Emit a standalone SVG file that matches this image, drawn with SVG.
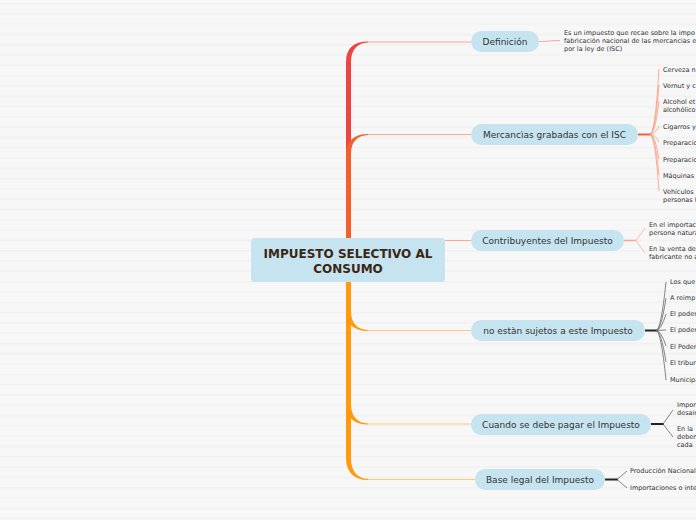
<svg xmlns="http://www.w3.org/2000/svg" width="696" height="520" viewBox="0 0 696 520">
<defs>
<pattern id="lines" width="696" height="10.3" patternUnits="userSpaceOnUse">
<rect width="696" height="10.3" fill="#f7f7f7"/>
<rect y="3" width="696" height="1" fill="#efefef"/>
</pattern>
<style>
.pill{fill:#c6e4f0}
.nt{font-family:"DejaVu Sans",Verdana,sans-serif;font-size:9px;fill:#333;text-anchor:middle}
.lt{font-family:"DejaVu Sans",Verdana,sans-serif;font-size:6.5px;fill:#333}
.ct{font-family:"DejaVu Sans",Verdana,sans-serif;font-size:12px;font-weight:bold;fill:#3b2616;text-anchor:middle}
.red{fill:#ee4540}
.ored{fill:#f2602e}
.orng{fill:#ff9a0a}
.hred{stroke:#f5a6a0;stroke-width:1;fill:none}
.hored{stroke:#f8aa8c;stroke-width:1;fill:none}
.horng{stroke:#ffc878;stroke-width:1;fill:none}
.fo{stroke:#f79c7c;stroke-width:0.8;fill:none}
.fs{stroke:#f8b09a;stroke-width:0.8;fill:none}
.fk{stroke:#666;stroke-width:0.8;fill:none}
.hk{stroke:#222;stroke-width:2;fill:none}
</style>
</defs>
<rect width="696" height="520" fill="url(#lines)"/>
<g id="connectors">
<!-- Definicion branch -->
<path class="red" d="M346,240 L346,62 C346,48 354,41.5 368,41.5 L368,42.5 C357,43 351,50 351,62 L351,240 Z"/>
<path class="hred" d="M368,42 L472,42"/>
<!-- Mercancias branch -->
<path class="ored" d="M346,240 L346,154 C346,141 354,134 368,134 L368,135 C357,135.5 351,142 351,154 L351,240 Z"/>
<path class="hored" d="M368,134.5 L472,134.5"/>
<!-- Contribuyentes -->
<path class="hored" d="M445,240.5 L472,240.5"/>
<!-- lower branches -->
<path class="orng" d="M346,280 L346,311 C346,324 354,331 368,331 L368,330 C357,329.5 351,323 351,311 L351,280 Z"/>
<path class="horng" d="M368,330.5 L472,330.5"/>
<path class="orng" d="M346,280 L346,404 C346,417 354,424.5 368,424.5 L368,423.5 C357,423 351,416 351,404 L351,280 Z"/>
<path class="horng" d="M368,424 L472,424"/>
<path class="orng" d="M346,280 L346,458 C346,472 354,480 368,480 L368,479 C357,478.5 351,471 351,458 L351,280 Z"/>
<path class="horng" d="M368,479.5 L476,479.5"/>
<!-- Definicion leaf -->
<path class="hred" d="M539,41.5 C550,41.5 550,40.5 560,40.5"/>
<!-- Mercancias fan -->
<path d="M638,134.5 L651,134.5" stroke="#f2602e" stroke-width="2" fill="none"/>
<path class="fo" d="M650,134.5 Q655,134.5 659,69"/>
<path class="fo" d="M650,134.5 Q655,134.5 659,85"/>
<path class="fo" d="M650,134.5 Q655,134.5 659,101"/>
<path class="fo" d="M650,134.5 Q655,134.5 659,126"/>
<path class="fo" d="M650,134.5 Q655,134.5 659,142"/>
<path class="fo" d="M650,134.5 Q655,134.5 659,159"/>
<path class="fo" d="M650,134.5 Q655,134.5 659,175"/>
<path class="fo" d="M650,134.5 Q655,134.5 659,191"/>
<!-- Contribuyentes fan -->
<path d="M624,240.5 L636,240.5" stroke="#f8a88a" stroke-width="1.5" fill="none"/>
<path class="fs" d="M636,240.5 L645,228"/>
<path class="fs" d="M636,240.5 L645,253"/>
<!-- No estan fan -->
<path class="hk" d="M645,330.5 L657,330.5"/>
<path class="fk" d="M656,330.5 Q661,330.5 666,282"/>
<path class="fk" d="M656,330.5 Q661,330.5 666,298"/>
<path class="fk" d="M656,330.5 Q661,330.5 666,314"/>
<path class="fk" d="M656,330.5 L666,330"/>
<path class="fk" d="M656,330.5 Q661,330.5 666,346"/>
<path class="fk" d="M656,330.5 Q661,330.5 666,362"/>
<path class="fk" d="M656,330.5 Q661,330.5 666,380"/>
<!-- Cuando fan -->
<path class="hk" d="M651,424 L664,424"/>
<path class="fk" d="M663,424 L673,410"/>
<path class="fk" d="M663,424 L673,437"/>
<!-- Base legal fan -->
<path class="hk" d="M605,479.5 L618,479.5"/>
<path class="fk" d="M617,479.5 L627,471"/>
<path class="fk" d="M617,479.5 L627,488"/>
</g>
<g id="central">
<rect x="251" y="238" width="194" height="44" rx="4" fill="#c6e4f0"/>
<text class="ct" x="348" y="258">IMPUESTO SELECTIVO AL</text>
<text class="ct" x="348" y="273">CONSUMO</text>
</g>
<g id="definicion">
<rect class="pill" x="471" y="31" width="68" height="21" rx="10.5"/>
<text class="nt" x="505" y="44.5">Definición</text>
</g>
<g id="definicion-leaf">
<text class="lt" x="564" y="34.5">Es un impuesto que recae sobre la impo</text>
<text class="lt" x="564" y="42.5">fabricación nacional de las mercancias e</text>
<text class="lt" x="564" y="50.5">por la ley de (ISC)</text>
</g>
<g id="mercancias">
<rect class="pill" x="471" y="124" width="167" height="21" rx="10.5"/>
<text class="nt" x="554.5" y="137.5">Mercancìas grabadas con el ISC</text>
</g>
<g id="mercancias-leaves">
<text class="lt" x="663" y="72.3">Cerveza n</text>
<text class="lt" x="663" y="88.3">Vernut y c</text>
<text class="lt" x="663" y="104.3">Alcohol et</text>
<text class="lt" x="663" y="112.3">alcohólico</text>
<text class="lt" x="663" y="129.3">Cigarros y</text>
<text class="lt" x="663" y="145.3">Preparacio</text>
<text class="lt" x="663" y="162.3">Preparacio</text>
<text class="lt" x="663" y="178.3">Máquinas</text>
<text class="lt" x="663" y="194.3">Vehículos</text>
<text class="lt" x="663" y="202.3">personas l</text>
</g>
<g id="contribuyentes">
<rect class="pill" x="471" y="230" width="153" height="21" rx="10.5"/>
<text class="nt" x="547.5" y="243.5">Contribuyentes del Impuesto</text>
</g>
<g id="contribuyentes-leaves">
<text class="lt" x="649" y="227.3">En el importac</text>
<text class="lt" x="649" y="235.3">persona natura</text>
<text class="lt" x="649" y="251.3">En la venta de</text>
<text class="lt" x="649" y="259.3">fabricante no a</text>
</g>
<g id="no-sujetos">
<rect class="pill" x="471" y="320" width="174" height="21" rx="10.5"/>
<text class="nt" x="558" y="333.5">no estàn sujetos a este Impuesto</text>
</g>
<g id="no-sujetos-leaves">
<text class="lt" x="670" y="284.3">Los que</text>
<text class="lt" x="670" y="300.3">A reimp</text>
<text class="lt" x="670" y="316.3">El poder</text>
<text class="lt" x="670" y="332.3">El poder</text>
<text class="lt" x="670" y="349.3">El Poder</text>
<text class="lt" x="670" y="365.3">El tribur</text>
<text class="lt" x="670" y="382.3">Municipa</text>
</g>
<g id="cuando">
<rect class="pill" x="471" y="414" width="180" height="21" rx="10.5"/>
<text class="nt" x="561" y="427.5">Cuando se debe pagar el Impuesto</text>
</g>
<g id="cuando-leaves">
<text class="lt" x="677" y="407.3">Impor</text>
<text class="lt" x="677" y="415.3">desair</text>
<text class="lt" x="677" y="431.3">En la</text>
<text class="lt" x="677" y="439.3">deben</text>
<text class="lt" x="677" y="447.3">cada</text>
</g>
<g id="base-legal">
<rect class="pill" x="475" y="469" width="130" height="21" rx="10.5"/>
<text class="nt" x="540" y="482.5">Base legal del Impuesto</text>
</g>
<g id="base-legal-leaves">
<text class="lt" x="630" y="473.3">Producción Nacional</text>
<text class="lt" x="630" y="490.3">Importaciones o inte</text>
</g>
</svg>
